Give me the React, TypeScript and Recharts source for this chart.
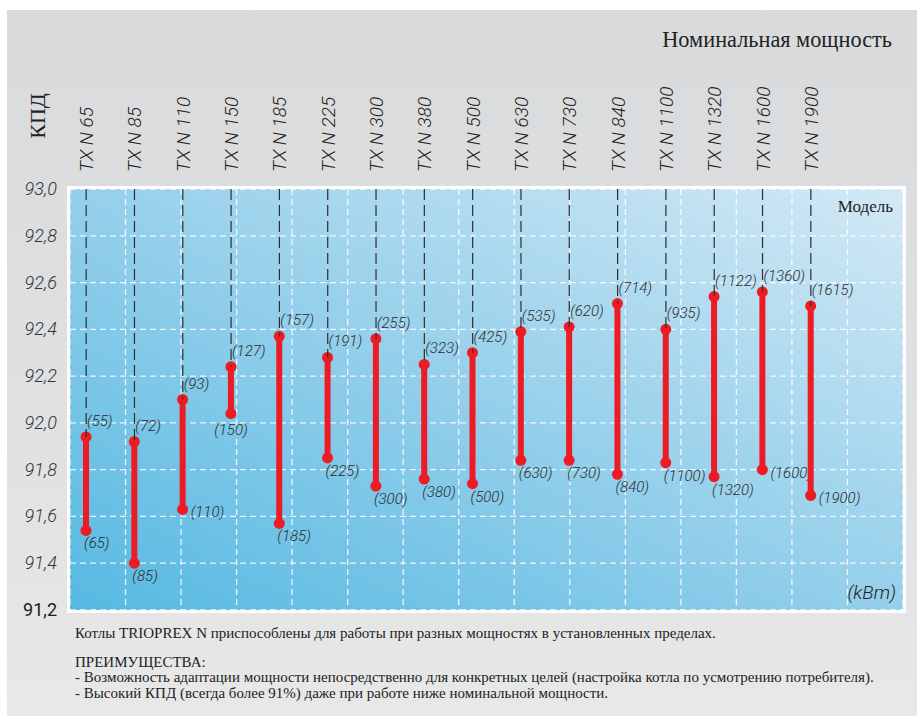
import React from 'react';
import {
  ComposedChart,
  Bar,
  XAxis,
  YAxis,
  CartesianGrid,
  ReferenceLine,
  ReferenceArea,
} from 'recharts';

// ---- data ----
const models = [
  'TX N 65', 'TX N 85', 'TX N 110', 'TX N 150', 'TX N 185', 'TX N 225', 'TX N 300', 'TX N 380',
  'TX N 500', 'TX N 630', 'TX N 730', 'TX N 840', 'TX N 1100', 'TX N 1320', 'TX N 1600', 'TX N 1900',
];
const nominalPower = [65, 85, 110, 150, 185, 225, 300, 380, 500, 630, 730, 840, 1100, 1320, 1600, 1900];
const minPower = [55, 72, 93, 127, 157, 191, 255, 323, 425, 535, 620, 714, 935, 1122, 1360, 1615];
const effAtMinPower = [91.94, 91.92, 92.1, 92.24, 92.37, 92.28, 92.36, 92.25, 92.3, 92.39, 92.41, 92.51, 92.4, 92.54, 92.56, 92.5];
const effAtNominal = [91.54, 91.4, 91.63, 92.04, 91.57, 91.85, 91.73, 91.76, 91.74, 91.84, 91.84, 91.78, 91.83, 91.77, 91.8, 91.69];
const yTicks = [91.2, 91.4, 91.6, 91.8, 92.0, 92.2, 92.4, 92.6, 92.8, 93.0];
const gridColumns = [1, 2, 3, 4, 5, 6, 7, 8, 9, 10, 11, 12, 13, 14, 15, 16, 17];
const gridMax = 17.8;
// where the label of the nominal-power point sits
const lowLabelPlacement = [
  'below', 'below', 'right', 'under', 'below', 'below', 'below', 'below',
  'below', 'below', 'below', 'below', 'below', 'below', 'right', 'right',
];

const data = models.map((m, i) => ({
  model: m,
  hi: effAtMinPower[i],
  lo: effAtNominal[i],
  pMin: minPower[i],
  pNom: nominalPower[i],
  place: lowLabelPlacement[i],
}));

const RED = '#ED1C24';
const SANS = 'Roboto, "Liberation Sans", Arial, sans-serif';
const SERIF = '"Liberation Serif", "Times New Roman", serif';

const RangeShape = (props: any) => {
  const { x, y, width, height, payload } = props;
  if (x == null || y == null) return null;
  const cx = x + width / 2;
  const top = Math.min(y, y + height);
  const bot = Math.max(y, y + height);
  let lx = cx - 2;
  let ly = bot + 18;
  let anchor: 'start' | 'middle' = 'start';
  if (payload.place === 'right') {
    lx = cx + 8;
    ly = bot + 8;
  } else if (payload.place === 'under') {
    lx = cx;
    ly = bot + 21;
    anchor = 'middle';
  }
  return (
    <g>
      <rect x={cx - 3} y={top} width={6} height={bot - top} fill={RED} />
      <circle cx={cx} cy={top} r={5.5} fill={RED} />
      <circle cx={cx} cy={bot} r={5.5} fill={RED} />
      <text
        x={cx + 1}
        y={top - 11}
        fontSize={15}
        fontStyle="italic"
        fontFamily={SANS}
        fontWeight={300}
        fill="#2b2b2b"
      >
        ({payload.pMin})
      </text>
      <text
        x={lx}
        y={ly}
        textAnchor={anchor}
        fontSize={15}
        fontStyle="italic"
        fontFamily={SANS}
        fontWeight={300}
        fill="#2b2b2b"
      >
        ({payload.pNom})
      </text>
    </g>
  );
};

const ModelTick = (props: any) => {
  const { x, y, payload } = props;
  return (
    <text
      transform={`translate(${x + 7},${y - 17}) rotate(-90)`}
      textAnchor="start"
      fontSize={19}
      fontStyle="italic"
      fontFamily={SANS}
      fontWeight={300}
      fill="#222"
    >
      {payload.value}
    </text>
  );
};

const EffTick = (props: any) => {
  const { x, y, payload } = props;
  const v = Number(payload.value);
  const isBase = Math.abs(v - 91.2) < 1e-6;
  return (
    <text
      x={x}
      y={y}
      dy={6}
      textAnchor="end"
      fontSize={18}
      fontStyle={isBase ? 'normal' : 'italic'}
      fontFamily={SANS}
      fontWeight={isBase ? 400 : 300}
      fill={isBase ? '#1a1a1a' : '#333'}
    >
      {v.toFixed(1).replace('.', ',')}
    </text>
  );
};

const bottomLines = [
  { text: 'Котлы TRIOPREX N приспособлены для работы при разных мощностях в установленных пределах.', top: 625 },
  { text: 'ПРЕИМУЩЕСТВА:', top: 654 },
  { text: '- Возможность адаптации мощности непосредственно для конкретных целей (настройка котла по усмотрению потребителя).', top: 669 },
  { text: '- Высокий КПД (всегда более 91%) даже при работе ниже номинальной мощности.', top: 685 },
];

export default function App() {
  return (
    <div style={{ position: 'absolute', left: 0, top: 0, width: 917, height: 716, background: '#fff', overflow: 'hidden' }}>
      <div
        style={{
          position: 'absolute',
          left: 7,
          top: 10,
          width: 910,
          height: 706,
          background: 'linear-gradient(to bottom, #d9dadc 0%, #e0e1e2 60%, #e8e8e9 100%)',
        }}
      />
      <div style={{ position: 'absolute', left: 67, top: 186, width: 839, height: 427, background: '#fff' }} />
      <div style={{ position: 'absolute', left: 0, top: 0 }}>
        <ComposedChart
          width={917}
          height={716}
          data={data}
          margin={{ top: 10, right: 14, bottom: 106, left: 10 }}
        >
          <defs>
            <linearGradient id="plotBg" x1="0" y1="1" x2="1" y2="0">
              <stop offset="0%" stopColor="#56b9e2" />
              <stop offset="45%" stopColor="#8fcdea" />
              <stop offset="100%" stopColor="#d3e9f5" />
            </linearGradient>
            <pattern id="hatch" width="6" height="6" patternUnits="userSpaceOnUse" patternTransform="rotate(-45)">
              <line x1="0" y1="0" x2="0" y2="6" stroke="#ffffff" strokeOpacity={0.22} strokeWidth={1} />
            </pattern>
          </defs>
          <XAxis
            xAxisId="cat"
            dataKey="model"
            type="category"
            orientation="top"
            height={179}
            axisLine={false}
            tickLine={false}
            tickSize={0}
            tickMargin={0}
            interval={0}
            padding={{ left: -8, right: 68 }}
            tick={<ModelTick />}
          />
          <XAxis xAxisId="grid" type="number" domain={[0, gridMax]} ticks={gridColumns} hide />
          <YAxis
            type="number"
            domain={[91.2, 93.0]}
            ticks={yTicks}
            width={60}
            axisLine={false}
            tickLine={false}
            tickSize={0}
            tickMargin={13}
            interval={0}
            tick={<EffTick />}
          />
          <CartesianGrid
            xAxisId="grid"
            stroke="#ffffff"
            strokeOpacity={0.85}
            strokeWidth={1.3}
            strokeDasharray="6 4"
            fill="url(#plotBg)"
            fillOpacity={1}
          />
          <ReferenceArea
            xAxisId="grid"
            x1={0}
            x2={gridMax}
            y1={91.2}
            y2={93.0}
            fill="url(#hatch)"
            fillOpacity={1}
            stroke="none"
          />
          {data.map((d) => (
            <ReferenceLine
              key={d.model}
              xAxisId="cat"
              segment={[
                { x: d.model, y: 93.0 },
                { x: d.model, y: d.hi },
              ]}
              stroke="#2e2e2e"
              strokeWidth={1.2}
              strokeDasharray="11 5"
            />
          ))}
          <Bar
            xAxisId="cat"
            dataKey={(d: any) => [d.lo, d.hi]}
            barSize={6}
            shape={<RangeShape />}
            isAnimationActive={false}
          />
        </ComposedChart>
      </div>
      <div
        style={{
          position: 'absolute',
          right: 25,
          top: 27,
          fontFamily: SERIF,
          fontSize: 22.3,
          lineHeight: '25px',
          color: '#222',
          whiteSpace: 'nowrap',
        }}
      >
        Номинальная мощность
      </div>
      <div
        style={{
          position: 'absolute',
          left: 38,
          top: 116,
          transform: 'translate(-50%, -50%) rotate(-90deg)',
          fontFamily: SERIF,
          fontSize: 22,
          lineHeight: '24px',
          color: '#222',
          whiteSpace: 'nowrap',
        }}
      >
        КПД
      </div>
      <div
        style={{
          position: 'absolute',
          right: 24,
          top: 197,
          fontFamily: SERIF,
          fontSize: 17,
          lineHeight: '20px',
          color: '#222',
          whiteSpace: 'nowrap',
        }}
      >
        Модель
      </div>
      <div
        style={{
          position: 'absolute',
          right: 21,
          top: 581,
          fontFamily: SANS,
          fontStyle: 'italic',
          fontWeight: 300,
          fontSize: 19,
          lineHeight: '24px',
          color: '#222',
          whiteSpace: 'nowrap',
        }}
      >
        (kBm)
      </div>
      {bottomLines.map((l) => (
        <div
          key={l.top}
          style={{
            position: 'absolute',
            left: 75,
            top: l.top,
            fontFamily: SERIF,
            fontSize: 15,
            lineHeight: '16px',
            color: '#222',
            whiteSpace: 'nowrap',
          }}
        >
          {l.text}
        </div>
      ))}
    </div>
  );
}
